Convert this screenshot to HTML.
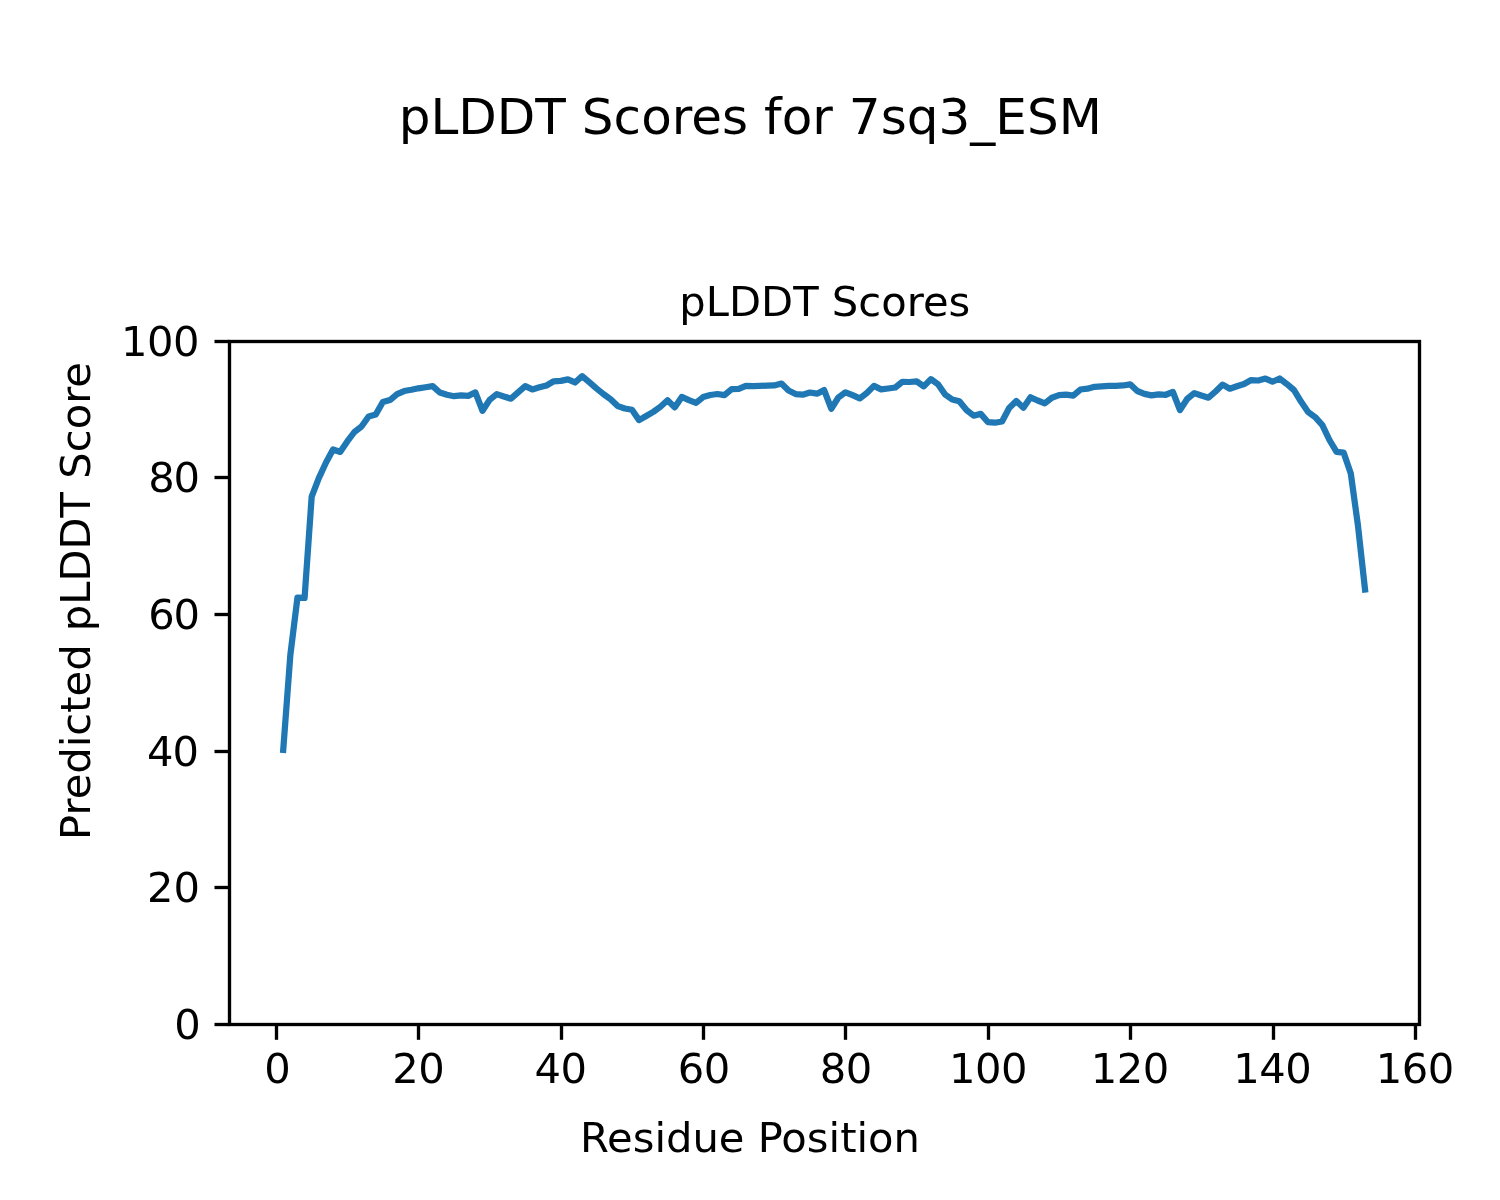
<!DOCTYPE html>
<html lang="en"><head><meta charset="utf-8"><title>pLDDT Scores for 7sq3_ESM</title>
<style>html,body{margin:0;padding:0;background:#fff}svg{display:block}text{font-family:"DejaVu Sans","Liberation Sans",sans-serif;fill:#000}</style></head><body>
<svg width="1500" height="1200" viewBox="0 0 1500 1200">
<rect x="0" y="0" width="1500" height="1200" fill="#ffffff"/>
<polyline fill="none" stroke="#1f77b4" stroke-width="6.25" stroke-linejoin="round" stroke-linecap="square" points="283.22,749.93 290.34,655.00 297.46,597.62 304.57,597.97 311.69,496.54 318.81,478.10 325.92,462.73 333.04,449.41 340.16,451.94 347.28,441.49 354.39,432.00 361.51,426.53 368.63,416.49 375.74,414.58 382.86,402.01 389.98,400.03 397.10,394.09 404.21,391.02 411.33,389.79 418.45,388.29 425.57,387.26 432.68,386.10 439.80,392.52 446.92,394.77 454.03,396.21 461.15,395.46 468.27,395.80 475.39,392.45 482.50,410.82 489.62,399.83 496.74,394.09 503.85,396.48 510.97,398.67 518.09,392.38 525.21,386.10 532.32,389.38 539.44,387.26 546.56,385.49 553.68,381.32 560.79,380.84 567.91,379.34 575.03,382.48 582.14,376.13 589.26,382.14 596.38,388.42 603.50,394.09 610.61,399.21 617.73,406.11 624.85,408.50 631.96,409.73 639.08,420.11 646.20,415.95 653.32,411.85 660.43,406.79 667.55,400.31 674.67,407.41 681.79,396.89 688.90,400.03 696.02,402.90 703.14,397.10 710.25,394.98 717.37,394.02 724.49,395.18 731.61,389.17 738.72,388.90 745.84,385.83 752.96,386.03 760.07,385.83 767.19,385.62 774.31,385.42 781.43,383.57 788.54,390.47 795.66,394.02 802.78,394.71 809.90,392.52 817.01,393.68 824.13,390.13 831.25,408.71 838.36,397.51 845.48,392.32 852.60,395.18 859.72,398.39 866.83,393.00 873.95,385.89 881.07,389.38 888.19,388.49 895.30,387.47 902.42,381.80 909.54,382.00 916.65,381.39 923.77,386.37 930.89,379.13 938.01,384.19 945.12,394.50 952.24,399.49 959.36,401.19 966.47,410.00 973.59,415.67 980.71,413.90 987.83,422.03 994.94,422.71 1002.06,421.48 1009.18,408.02 1016.30,401.06 1023.41,407.68 1030.53,397.30 1037.65,400.51 1044.76,403.38 1051.88,397.78 1059.00,395.18 1066.12,394.57 1073.23,395.59 1080.35,389.51 1087.47,388.70 1094.58,386.78 1101.70,386.37 1108.82,385.83 1115.94,385.83 1123.05,385.49 1130.17,384.32 1137.29,391.02 1144.41,393.82 1151.52,395.32 1158.64,394.30 1165.76,394.77 1172.87,391.91 1179.99,410.14 1187.11,399.01 1194.23,393.13 1201.34,395.53 1208.46,397.71 1215.58,391.50 1222.69,384.60 1229.81,388.70 1236.93,386.24 1244.05,383.98 1251.16,380.02 1258.28,380.50 1265.40,378.59 1272.52,381.73 1279.63,378.52 1286.75,383.98 1293.87,389.99 1300.98,401.60 1308.10,411.99 1315.22,417.18 1322.34,425.17 1329.45,439.99 1336.57,451.87 1343.69,452.69 1350.80,473.52 1357.92,525.23 1365.04,589.43"/>
<g stroke="#000" stroke-width="3.333" stroke-linecap="butt" fill="none">
<line x1="276.5" y1="1024.50" x2="276.5" y2="1039.80"/>
<line x1="418.5" y1="1024.50" x2="418.5" y2="1039.80"/>
<line x1="561.5" y1="1024.50" x2="561.5" y2="1039.80"/>
<line x1="703.5" y1="1024.50" x2="703.5" y2="1039.80"/>
<line x1="845.5" y1="1024.50" x2="845.5" y2="1039.80"/>
<line x1="988.5" y1="1024.50" x2="988.5" y2="1039.80"/>
<line x1="1130.5" y1="1024.50" x2="1130.5" y2="1039.80"/>
<line x1="1273.5" y1="1024.50" x2="1273.5" y2="1039.80"/>
<line x1="1415.5" y1="1024.50" x2="1415.5" y2="1039.80"/>
<line x1="214.50" y1="1024.5" x2="229.50" y2="1024.5"/>
<line x1="214.50" y1="887.5" x2="229.50" y2="887.5"/>
<line x1="214.50" y1="751.5" x2="229.50" y2="751.5"/>
<line x1="214.50" y1="614.5" x2="229.50" y2="614.5"/>
<line x1="214.50" y1="477.5" x2="229.50" y2="477.5"/>
<line x1="214.50" y1="341.5" x2="229.50" y2="341.5"/>
<rect x="229.5" y="341.5" width="1190.0" height="683.0" stroke-linejoin="miter"/>
</g>
<g font-size="41.667px">
<text x="277.22" y="1083.00" text-anchor="middle" letter-spacing="-0.5">0</text>
<text x="418.17" y="1083.00" text-anchor="middle" letter-spacing="-0.5">20</text>
<text x="560.41" y="1083.00" text-anchor="middle" letter-spacing="-0.5">40</text>
<text x="703.76" y="1083.00" text-anchor="middle" letter-spacing="-0.5">60</text>
<text x="845.80" y="1083.00" text-anchor="middle" letter-spacing="-0.5">80</text>
<text x="987.95" y="1083.00" text-anchor="middle" letter-spacing="-0.5">100</text>
<text x="1129.79" y="1083.00" text-anchor="middle" letter-spacing="-0.5">120</text>
<text x="1272.14" y="1083.00" text-anchor="middle" letter-spacing="-0.5">140</text>
<text x="1414.88" y="1083.00" text-anchor="middle" letter-spacing="-0.5">160</text>
<text x="174.3" y="1039">0</text>
<text x="147.1 173.4" y="902">20</text>
<text x="147.1 172.4" y="766">40</text>
<text x="148.2 173.4" y="629">60</text>
<text x="148.2 173.4" y="492">80</text>
<text x="121.1 147.1 173.1" y="356">100</text>
<text x="824.80" y="316.00" text-anchor="middle">pLDDT Scores</text>
<text x="750.00" y="1152.00" text-anchor="middle">Residue Position</text>
<text transform="translate(89.50 601.00) rotate(-90)" text-anchor="middle">Predicted pLDDT Score</text>
</g>
<text x="750.30" y="134.00" text-anchor="middle" letter-spacing="0.03" font-size="50.000px">pLDDT Scores for 7sq3_ESM</text>
</svg></body></html>
